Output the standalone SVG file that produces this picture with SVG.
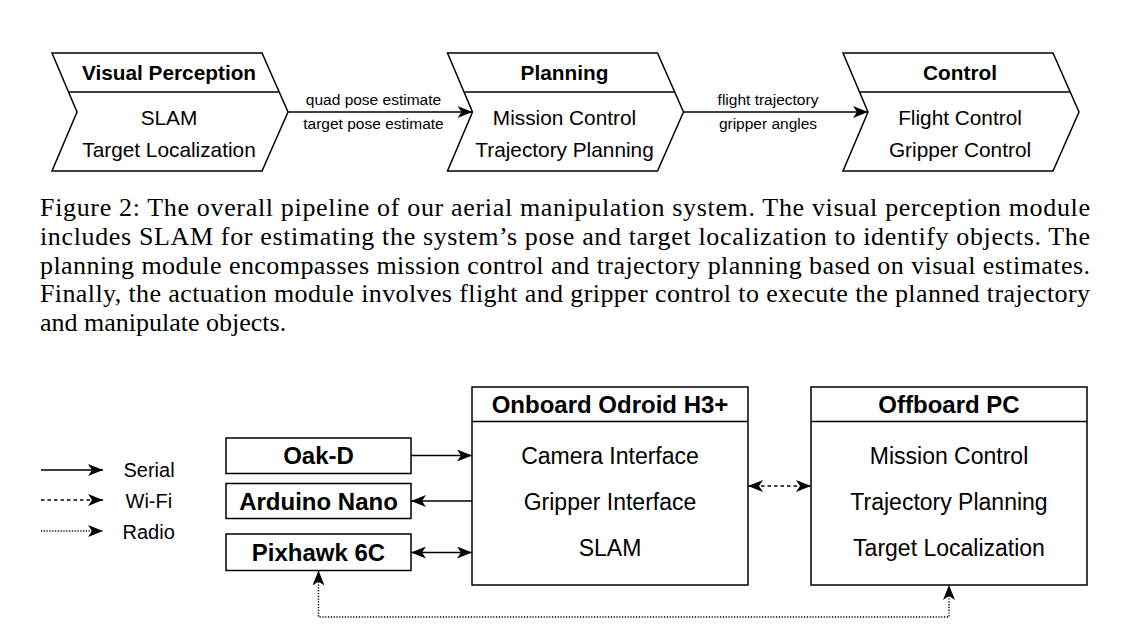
<svg xmlns="http://www.w3.org/2000/svg" width="1143" height="641" viewBox="0 0 1143 641">
<style>
.shape{fill:#ffffff;stroke:#000000;stroke-width:1.5}
.div{fill:none;stroke:#000000;stroke-width:1.5}
.conn{fill:none;stroke:#000000;stroke-width:1.5}
.dash{stroke-dasharray:3.5 3}
.dot{stroke-dasharray:1.2 1.6}
.hd{font-family:"Liberation Sans",Arial,sans-serif;font-weight:bold;fill:#000;text-anchor:middle}
.bd{font-family:"Liberation Sans",Arial,sans-serif;fill:#000;text-anchor:middle}
.lbl{font-family:"Liberation Sans",Arial,sans-serif;font-size:15.5px;fill:#000;text-anchor:middle}
.t1{font-size:20.8px}
.t2{font-size:24px}
.t3{font-size:23px}
.leg{font-family:"Liberation Sans",Arial,sans-serif;font-size:20px;fill:#000}
.cap{font-family:"Liberation Serif","Times New Roman",serif;font-size:26px;fill:#000}
</style>
<defs>
<marker id="arr" viewBox="0 0 15 12" refX="15" refY="6" markerWidth="15" markerHeight="12" markerUnits="userSpaceOnUse" orient="auto-start-reverse">
<path d="M0,0 L15,6 L0,12 L4,6 z" fill="#000"/>
</marker>
</defs>
<rect x="0" y="0" width="1143" height="641" fill="#ffffff"/>

<g id="visual-perception">
<path class="shape" d="M52,53 H262 L288,112 L262,171 H52 L77,112 Z"/>
<line class="div" x1="69" y1="92" x2="279.5" y2="92"/>
<text class="hd t1" x="169" y="80">Visual Perception</text>
<text class="bd t1" x="169" y="124.5">SLAM</text>
<text class="bd t1" x="169" y="157">Target Localization</text>
</g>

<g id="planning">
<path class="shape" d="M447.5,53 H657.5 L683.5,112 L657.5,171 H447.5 L472.5,112 Z"/>
<line class="div" x1="464.5" y1="92" x2="675" y2="92"/>
<text class="hd t1" x="564.5" y="80">Planning</text>
<text class="bd t1" x="564.5" y="124.5">Mission Control</text>
<text class="bd t1" x="564.5" y="157">Trajectory Planning</text>
</g>

<g id="control">
<path class="shape" d="M843,53 H1053 L1079,112 L1053,171 H843 L868,112 Z"/>
<line class="div" x1="860" y1="92" x2="1070.5" y2="92"/>
<text class="hd t1" x="960" y="80">Control</text>
<text class="bd t1" x="960" y="124.5">Flight Control</text>
<text class="bd t1" x="960" y="157">Gripper Control</text>
</g>

<g id="caption">
<text class="cap" x="40" y="216" textLength="1050" lengthAdjust="spacing">Figure 2:  The overall pipeline of our aerial manipulation system.  The visual perception module</text>
<text class="cap" x="40" y="245" textLength="1050" lengthAdjust="spacing">includes SLAM for estimating the system’s pose and target localization to identify objects.  The</text>
<text class="cap" x="40" y="273.5" textLength="1050" lengthAdjust="spacing">planning module encompasses mission control and trajectory planning based on visual estimates.</text>
<text class="cap" x="40" y="302" textLength="1050" lengthAdjust="spacing">Finally, the actuation module involves flight and gripper control to execute the planned trajectory</text>
<text class="cap" x="40" y="331">and manipulate objects.</text>
</g>

<g id="legend">
<text class="leg" x="123.5" y="477">Serial</text>
<text class="leg" x="125.5" y="508">Wi-Fi</text>
<text class="leg" x="122.5" y="538.5">Radio</text>
</g>

<g id="oak-d">
<rect class="shape" x="226" y="438" width="185" height="35.5"/>
<text class="hd t2" x="318.5" y="464">Oak-D</text>
</g>

<g id="arduino-nano">
<rect class="shape" x="226" y="483.5" width="185" height="35"/>
<text class="hd t2" x="318.5" y="510">Arduino Nano</text>
</g>

<g id="pixhawk">
<rect class="shape" x="226" y="534" width="185" height="36.5"/>
<text class="hd t2" x="318.5" y="561">Pixhawk 6C</text>
</g>

<g id="onboard">
<rect class="shape" x="472" y="387" width="276" height="198"/>
<line class="div" x1="472" y1="421.5" x2="748" y2="421.5"/>
<text class="hd t2" x="610" y="412.5">Onboard Odroid H3+</text>
<text class="bd t3" x="610" y="464">Camera Interface</text>
<text class="bd t3" x="610" y="510">Gripper Interface</text>
<text class="bd t3" x="610" y="556">SLAM</text>
</g>

<g id="offboard">
<rect class="shape" x="811" y="387" width="276" height="198"/>
<line class="div" x1="811" y1="421.5" x2="1087" y2="421.5"/>
<text class="hd t2" x="949" y="412.5">Offboard PC</text>
<text class="bd t3" x="949" y="464">Mission Control</text>
<text class="bd t3" x="949" y="510">Trajectory Planning</text>
<text class="bd t3" x="949" y="556">Target Localization</text>
</g>

<g id="connectors">
<path class="conn" d="M288,112 H472.5" marker-end="url(#arr)"/>
<text class="lbl" x="373.5" y="105">quad pose estimate</text>
<text class="lbl" x="373.5" y="129">target pose estimate</text>
<path class="conn" d="M683.5,112 H868" marker-end="url(#arr)"/>
<text class="lbl" x="768" y="105">flight trajectory</text>
<text class="lbl" x="768" y="129">gripper angles</text>
<path class="conn" d="M411,455.5 H472" marker-end="url(#arr)"/>
<path class="conn" d="M472,501 H411" marker-end="url(#arr)"/>
<path class="conn" d="M411,552.5 H472" marker-start="url(#arr)" marker-end="url(#arr)"/>
<path class="conn dash" d="M748,486 H811" marker-start="url(#arr)" marker-end="url(#arr)"/>
<path class="conn dot" d="M318.5,570.5 V617 H949 V585" marker-start="url(#arr)" marker-end="url(#arr)"/>
<path class="conn" d="M41,470 H103" marker-end="url(#arr)"/>
<path class="conn dash" d="M41,500 H103" marker-end="url(#arr)"/>
<path class="conn dot" d="M41,531 H103" marker-end="url(#arr)"/>
</g>
</svg>
